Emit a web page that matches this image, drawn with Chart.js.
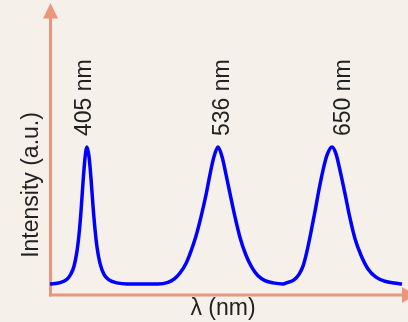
<!DOCTYPE html>
<html>
<head>
<meta charset="utf-8">
<script src="https://cdn.jsdelivr.net/npm/chart.js@4/dist/chart.umd.min.js"></script>
<style>
html,body{margin:0;padding:0;background:#F5F1EA;}
#wrap{width:408px;height:322px;position:relative;}
</style>
</head>
<body>
<div id="wrap"><canvas id="c" width="408" height="322"></canvas></div>
<script>
// Wavelengths (nm) and relative intensities (a.u.)
const wavelengths = [
  368, 378, 385, 389, 392, 395, 397, 399, 401, 403, 405, 407, 409, 411, 413, 415, 418, 422, 427, 435, 445,
  476, 486, 492, 498, 504, 509, 514, 519, 524, 528, 532, 536, 540, 544, 548, 553, 558, 564, 570, 576, 583, 591, 601,
  595, 605, 612, 617, 621, 625, 629, 633, 637, 641, 645, 650, 654, 658, 663, 668, 673, 679, 686, 694, 703, 712, 720
];
const intensity = [
  0.0, 0.01, 0.035, 0.075, 0.13, 0.24, 0.36, 0.53, 0.74, 0.92, 1.0, 0.93, 0.77, 0.57, 0.40, 0.27, 0.15, 0.07, 0.03, 0.008, 0.0,
  0.0, 0.012, 0.035, 0.08, 0.15, 0.24, 0.35, 0.49, 0.65, 0.80, 0.93, 1.0, 0.93, 0.80, 0.66, 0.49, 0.34, 0.21, 0.12, 0.06, 0.025, 0.008, 0.0,
  0.0, 0.01, 0.03, 0.07, 0.13, 0.24, 0.38, 0.53, 0.69, 0.83, 0.94, 1.0, 0.95, 0.83, 0.66, 0.48, 0.33, 0.21, 0.11, 0.05, 0.02, 0.007, 0.0
];
const peakWavelengths = [405, 536, 650];
const peakLabels = ['405 nm', '536 nm', '650 nm'];
const xTitle = 'λ (nm)';
const yTitle = 'Intensity (a.u.)';

const points = wavelengths.map((w, i) => ({x: w, y: intensity[i]}))
  .filter((p, i, arr) => i === 0 || p.x > arr[i - 1].x);

const AXIS = '#E9967A';
const FONT = '23px "Liberation Sans", Arial, sans-serif';

const deco = {
  id: 'deco',
  beforeDraw(chart) {
    const ctx = chart.ctx;
    ctx.save();
    ctx.fillStyle = '#F5F1EA';
    ctx.fillRect(0, 0, chart.width, chart.height);
    ctx.restore();
  },
  beforeDatasetsDraw(chart) {
    const ctx = chart.ctx, a = chart.chartArea;
    const x0 = a.left - 0.5, y0 = a.bottom;
    ctx.save();
    ctx.strokeStyle = AXIS; ctx.fillStyle = AXIS; ctx.lineWidth = 3;
    ctx.beginPath(); ctx.moveTo(x0, y0 + 1.5); ctx.lineTo(x0, a.top); ctx.stroke();
    ctx.beginPath(); ctx.moveTo(x0 - 1.5, y0); ctx.lineTo(a.right - 6, y0); ctx.stroke();
    ctx.beginPath(); ctx.moveTo(x0, a.top - 15); ctx.lineTo(x0 - 7.5, a.top + 0.5); ctx.lineTo(x0 + 7.5, a.top + 0.5); ctx.closePath(); ctx.fill();
    ctx.beginPath(); ctx.moveTo(a.right + 8, y0); ctx.lineTo(a.right - 6, y0 - 8); ctx.lineTo(a.right - 6, y0 + 8); ctx.closePath(); ctx.fill();
    ctx.restore();
  },
  afterDatasetsDraw(chart, args, opts) {
    const ctx = chart.ctx, xs = chart.scales.x, ys = chart.scales.y;
    ctx.save();
    ctx.fillStyle = '#222222';
    ctx.font = FONT;
    peakWavelengths.forEach((w, i) => {
      const px = xs.getPixelForValue(w) + opts.labelDx[i];
      const py = ys.getPixelForValue(1) - 11;
      ctx.save();
      ctx.translate(px, py);
      ctx.rotate(-Math.PI / 2);
      ctx.textAlign = 'left';
      ctx.textBaseline = 'middle';
      ctx.fillText(peakLabels[i], 0, 0);
      ctx.restore();
    });
    ctx.save();
    ctx.translate(32, 185);
    ctx.rotate(-Math.PI / 2);
    ctx.textAlign = 'center';
    ctx.textBaseline = 'middle';
    ctx.fillText(yTitle, 0, 0);
    ctx.restore();
    ctx.textAlign = 'center';
    ctx.textBaseline = 'middle';
    ctx.fillText(xTitle, 223, 309);
    ctx.restore();
  }
};

new Chart(document.getElementById('c'), {
  type: 'line',
  data: {
    datasets: [{
      data: points,
      borderColor: '#0000FF',
      borderWidth: 3.5,
      pointRadius: 0,
      fill: false,
      cubicInterpolationMode: 'monotone',
      clip: false
    }]
  },
  options: {
    responsive: false,
    animation: false,
    devicePixelRatio: 1,
    layout: {padding: {left: 51, right: 0, top: 18, bottom: 27}},
    plugins: {legend: {display: false}, tooltip: {enabled: false},
      deco: {labelDx: [-2, 5, 12]}},
    scales: {
      x: {type: 'linear', min: 369, max: 726, display: false},
      y: {type: 'linear', min: -0.0803, max: 1.9416, display: false}
    }
  },
  plugins: [deco]
});
</script>
</body>
</html>
